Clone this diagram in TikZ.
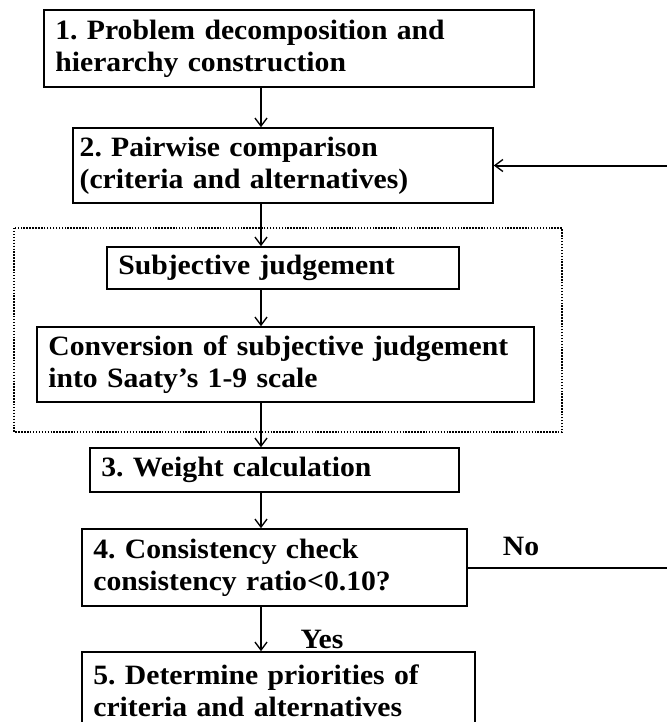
\documentclass[tikz,border=0pt]{standalone}
\usepackage{fontspec}
\setmainfont[FakeStretch=1.06]{Liberation Serif}
\usepackage{tikz}
\usetikzlibrary{arrows.meta}
\frenchspacing

\begin{document}
\begin{tikzpicture}[x=0.75pt,y=-0.75pt,auto,
    main node/.style={draw,line width=1.2pt,align=left,inner xsep=8.5pt,inner ysep=0pt,
      font=\fontsize{21}{24}\selectfont\bfseries},
    tag/.style={inner sep=0pt,font=\fontsize{21}{24}\selectfont\bfseries},
    flow/.style={line width=1pt,-{Straight Barb[length=6pt,width=9pt,line width=1pt]}}]
        \useasboundingbox (0,0) rectangle (667,722);
        \coordinate (a) at (261,0);
        \coordinate (r) at (667,0);
        \node[main node,minimum width=367.5pt,minimum height=57.75pt,text width=350.5pt] (1) at (289,48.5)
          {1. Problem decomposition and\\hierarchy construction};
        \node[main node,inner xsep=5pt,minimum width=315pt,minimum height=56.25pt,text width=305pt] (2) at (283,165.5)
          {2. Pairwise comparison\\(criteria and alternatives)};
        \node[main node,minimum width=264pt,minimum height=31.5pt,text width=247pt] (2a) at (283,268)
          {Subjective judgement};
        \node[main node,minimum width=372.75pt,minimum height=56.25pt,text width=355.75pt] (2b) at (285.5,364.5)
          {Conversion of subjective judgement\\into Saaty's 1-9 scale};
        \node[main node,minimum width=276.75pt,minimum height=33pt,text width=259.75pt] (3) at (274.5,470)
          {3. Weight calculation};
        \node[main node,minimum width=288.75pt,minimum height=57.75pt,text width=271.75pt] (4) at (274.5,567.5)
          {4. Consistency check\\consistency ratio<0.10?};
        \node[main node,minimum width=294.75pt,minimum height=57.75pt,text width=277.75pt] (5) at (278.5,690.5)
          {5. Determine priorities of\\criteria and alternatives};
        % dotted frame round the two sub-steps of step 2
        \draw[line width=1.1pt,dash pattern=on 1.1pt off 1.1pt] (14,228) rectangle (562,432);
        \node[tag] (no) at (521,546) {No};
        \node[tag] (yes) at (322,639) {Yes};
        \path
          (1.south -| a) edge[flow] (2.north -| a)
          (2.south -| a) edge[flow] (2a.north -| a)
          (2a.south -| a) edge[flow] (2b.north -| a)
          (2b.south -| a) edge[flow] (3.north -| a)
          (3.south -| a) edge[flow] (4.north -| a)
          (4.south -| a) edge[flow] (5.north -| a)
          (2.east -| r) edge[flow,line width=1.5pt] (2.east)
          (4.east) edge[line width=1.5pt] (4.east -| r);
      \end{tikzpicture}
\end{document}
